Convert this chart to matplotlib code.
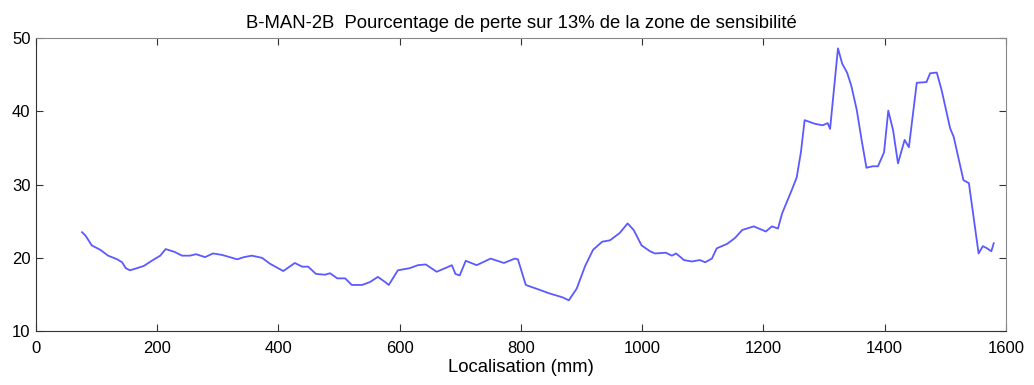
import matplotlib
matplotlib.use('Agg')
import numpy as np
from matplotlib import pyplot as plt

# position along the sample (mm) and loss percentage
localisation = [76, 82, 92, 106, 119, 134, 142, 148, 155, 167, 178, 191, 205, 214,
                229, 241, 254, 264, 279, 292, 307, 332, 343, 356, 373, 386, 408,
                427, 439, 449, 462, 477, 485, 497, 510, 521, 538, 551, 564, 576,
                582, 597, 617, 630, 643, 661, 678, 686, 692, 699, 709, 727, 750,
                772, 790, 795, 808, 832, 845, 869, 879, 892, 906, 919, 934, 947,
                963, 976, 986, 999, 1013, 1021, 1039, 1049, 1056, 1069, 1082,
                1095, 1104, 1115, 1123, 1140, 1153, 1165, 1184, 1204, 1214, 1224,
                1231, 1240, 1247, 1255, 1262, 1268, 1285, 1298, 1306, 1310, 1323,
                1330, 1338, 1345, 1354, 1362, 1370, 1380, 1389, 1399, 1406, 1414,
                1422, 1433, 1440, 1453, 1469, 1475, 1486, 1494, 1508, 1514, 1530,
                1539, 1555, 1562, 1569, 1576, 1580]
perte = [23.5, 23.0, 21.7, 21.1, 20.3, 19.8, 19.4, 18.6, 18.3, 18.6, 18.9, 19.6,
         20.3, 21.2, 20.8, 20.3, 20.3, 20.5, 20.1, 20.6, 20.4, 19.8, 20.1, 20.3,
         20.0, 19.2, 18.2, 19.3, 18.8, 18.8, 17.8, 17.7, 17.9, 17.2, 17.2, 16.3,
         16.3, 16.7, 17.4, 16.7, 16.3, 18.3, 18.6, 19.0, 19.1, 18.1, 18.7, 19.0,
         17.8, 17.6, 19.6, 19.0, 19.9, 19.3, 19.9, 19.8, 16.3, 15.6, 15.2, 14.6,
         14.2, 15.8, 18.9, 21.1, 22.2, 22.4, 23.4, 24.7, 23.8, 21.7, 20.9, 20.6,
         20.7, 20.3, 20.6, 19.7, 19.5, 19.7, 19.4, 19.9, 21.3, 21.9, 22.7, 23.8,
         24.3, 23.6, 24.3, 24.0, 26.1, 27.9, 29.3, 31.0, 34.5, 38.8, 38.3, 38.1,
         38.4, 37.6, 48.6, 46.5, 45.3, 43.5, 40.2, 36.1, 32.3, 32.5, 32.5, 34.4,
         40.1, 37.4, 32.9, 36.1, 35.1, 43.9, 44.0, 45.2, 45.3, 42.9, 37.7, 36.5,
         30.6, 30.2, 20.6, 21.6, 21.3, 20.9, 22.0]

plt.rcParams['font.family'] = ['Liberation Sans', 'DejaVu Sans']

fig = plt.figure(figsize=(10.34, 3.85), dpi=100)
ax = fig.add_axes([0.0348, 0.140, 0.938, 0.761])
ax.plot(localisation, perte, color='#5a5aff', linewidth=1.3)

ax.set_xlim(0, 1600)
ax.set_ylim(10, 50)
ax.set_xticks(np.arange(0, 1601, 200))
ax.set_yticks(np.arange(10, 51, 10))
ax.tick_params(direction='in', length=5, labelsize=12, top=True, right=True,
               color='#333333')
ax.tick_params(axis='x', pad=7)
ax.tick_params(axis='y', pad=4)
for side in ['left', 'bottom']:
    ax.spines[side].set_color('#333333')
for side in ['top', 'right']:
    ax.spines[side].set_color('#888888')

ax.set_title(u'B-MAN-2B  Pourcentage de perte sur 13% de la zone de sensibilit\u00e9',
             fontsize=13.3, pad=7)
ax.set_xlabel('Localisation (mm)', fontsize=13.3, labelpad=2)

fig.savefig('out.png', dpi=100)
